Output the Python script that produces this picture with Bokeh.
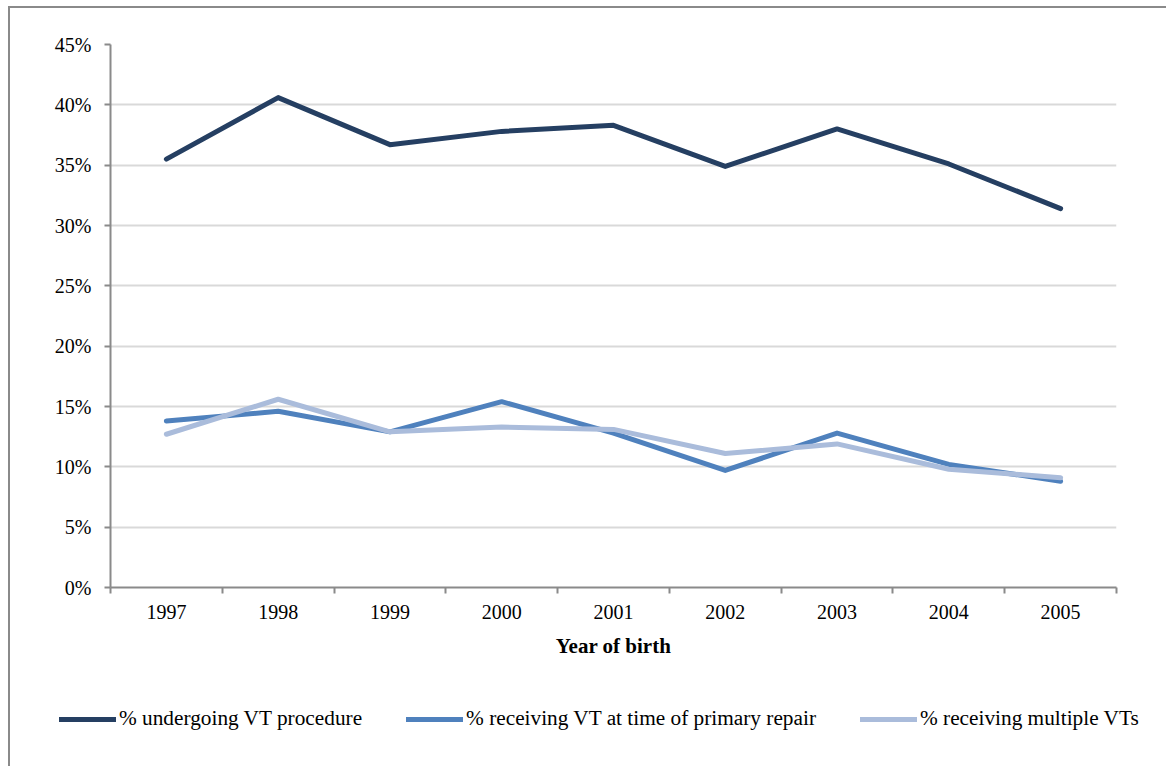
from bokeh.plotting import figure
from bokeh.models import (ColumnDataSource, FixedTicker, NumeralTickFormatter, Legend, LegendItem, Range1d)
from bokeh.embed import file_html
from bokeh.resources import INLINE

years = ["1997", "1998", "1999", "2000", "2001", "2002", "2003", "2004", "2005"]
undergoing_vt = [0.355, 0.406, 0.367, 0.378, 0.383, 0.349, 0.380, 0.351, 0.314]
vt_primary_repair = [0.138, 0.146, 0.129, 0.154, 0.128, 0.097, 0.128, 0.102, 0.088]
multiple_vts = [0.127, 0.156, 0.129, 0.133, 0.131, 0.111, 0.119, 0.098, 0.091]
series_names = ["% undergoing VT procedure", "% receiving VT at time of primary repair", "% receiving multiple VTs"]
y_ticks = [0, 0.05, 0.10, 0.15, 0.20, 0.25, 0.30, 0.35, 0.40, 0.45]

FONT = "Liberation Serif"
colors = ["#253F62", "#4F81BD", "#AABCDB"]
LW = 5
BORDER = "2px solid #8a8a8a"

xpos = [i + 0.5 for i in range(len(years))]
src = ColumnDataSource(dict(x=xpos, a=undergoing_vt, b=vt_primary_repair, c=multiple_vts))

p = figure(frame_width=1006, frame_height=543, min_border_left=100, min_border_top=36,
           min_border_right=50, min_border_bottom=80,
           x_range=Range1d(0, len(years)), y_range=Range1d(0, 0.45),
           output_backend="svg", toolbar_location=None)
p.styles = {"border-left": BORDER, "border-top": BORDER, "margin-left": "8px", "margin-top": "6px"}
p.outline_line_color = None
p.background_fill_color = "white"
p.border_fill_color = "white"

for key, col in zip(["a", "b", "c"], colors):
    p.line("x", key, source=src, line_color=col, line_width=LW, line_join="round", line_cap="round")

# x axis
xa = p.xaxis[0]
xa.ticker = FixedTicker(ticks=xpos, minor_ticks=list(range(len(years) + 1)))
xa.major_label_overrides = {x: y for x, y in zip(xpos, years)}
xa.major_tick_line_color = None
xa.minor_tick_line_color = "#8a8a8a"
xa.minor_tick_line_width = 2
xa.minor_tick_out = 6
xa.minor_tick_in = 0
xa.axis_line_color = "#8a8a8a"
xa.axis_line_width = 2
xa.major_label_text_font = FONT
xa.major_label_text_font_size = "20px"
xa.major_label_text_color = "black"
xa.major_label_standoff = 11
xa.axis_label = "Year of birth"
xa.axis_label_text_font = FONT
xa.axis_label_text_font_size = "21px"
xa.axis_label_text_font_style = "bold"
xa.axis_label_text_color = "black"
xa.axis_label_standoff = 12

# y axis
ya = p.yaxis[0]
ya.ticker = FixedTicker(ticks=y_ticks)
ya.formatter = NumeralTickFormatter(format="0%")
ya.major_tick_line_color = "#8a8a8a"
ya.major_tick_line_width = 2
ya.major_tick_out = 6
ya.major_tick_in = 0
ya.minor_tick_line_color = None
ya.axis_line_color = "#8a8a8a"
ya.axis_line_width = 2
ya.major_label_text_font = FONT
ya.major_label_text_font_size = "20px"
ya.major_label_text_color = "black"
ya.major_label_standoff = 13

p.xgrid.grid_line_color = None
p.ygrid.grid_line_color = "#d9d9d9"
p.ygrid.grid_line_width = 2

# legend strip: a second root, so it is neither frame-aligned nor clipped
lf = figure(width=1156, height=99, min_border=0, x_axis_type=None, y_axis_type=None,
            x_range=Range1d(0, 1), y_range=Range1d(0, 1),
            output_backend="svg", toolbar_location=None)
lf.styles = {"border-left": BORDER, "margin-left": "8px"}
lf.outline_line_color = None
lf.grid.grid_line_color = None
lf.background_fill_color = "white"
lf.border_fill_color = "white"
leg_renderers = [lf.line(x=[-10, -9], y=[-10, -10], line_color=col, line_width=LW, line_cap="round")
                 for col in colors]
legend = Legend(items=[LegendItem(label=n, renderers=[r]) for n, r in zip(series_names, leg_renderers)],
                orientation="horizontal", location=(49, 35),
                label_text_font=FONT, label_text_font_size="21.3px", label_text_color="black",
                glyph_width=57, label_standoff=3, spacing=44, padding=0, margin=0,
                border_line_color=None, background_fill_alpha=0)
lf.add_layout(legend, "center")

open("out.html", "w").write(file_html([p, lf], INLINE))
